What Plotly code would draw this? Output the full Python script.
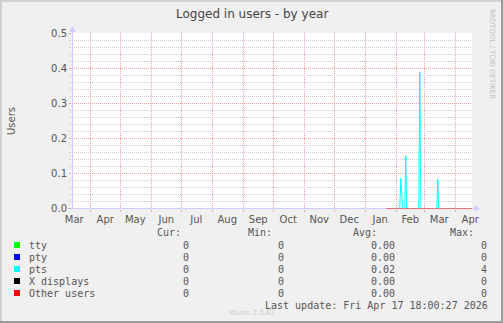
import plotly.graph_objects as go

# ---------------- data ----------------
series_names = ["tty", "pty", "pts", "X displays", "Other users"]
series_colors = ["#00FF00", "#0000FF", "#00FFFF", "#000000", "#FF0000"]

zero_dates = ["2026-01-21 18:00", "2026-04-17 18:00"]
zero_values = [0, 0]

pts_dates = ["2026-01-21 18:00", "2026-02-04 12:00", "2026-02-05 12:00", "2026-02-06 12:00",
             "2026-02-07 12:00", "2026-02-09 12:00", "2026-02-10 12:00", "2026-02-11 12:00",
             "2026-02-23 12:00", "2026-02-24 12:00", "2026-02-25 12:00", "2026-03-13 12:00",
             "2026-03-14 12:00", "2026-03-15 12:00", "2026-04-17 18:00"]
pts_values = [0, 0, 0.086, 0.03, 0, 0, 0.15, 0, 0, 0.39, 0, 0, 0.083, 0, 0]

month_label_dates = ["2025-03-16", "2025-04-16", "2025-05-16", "2025-06-16", "2025-07-16",
                     "2025-08-16", "2025-09-16", "2025-10-16", "2025-11-16", "2025-12-16",
                     "2026-01-16", "2026-02-15", "2026-03-16", "2026-04-16"]
month_labels = ["Mar", "Apr", "May", "Jun", "Jul", "Aug", "Sep", "Oct", "Nov", "Dec",
                "Jan", "Feb", "Mar", "Apr"]
month_starts = ["2025-04-01", "2025-05-01", "2025-06-01", "2025-07-01", "2025-08-01",
                "2025-09-01", "2025-10-01", "2025-11-01", "2025-12-01", "2026-01-01",
                "2026-02-01", "2026-03-01", "2026-04-01"]

y_ticks = [0.0, 0.1, 0.2, 0.3, 0.4, 0.5]
y_tick_labels = ["0.0", "0.1", "0.2", "0.3", "0.4", "0.5"]

stat_cur = ["0", "0", "0", "0", "0"]
stat_min = ["0", "0", "0", "0", "0"]
stat_avg = ["0.00", "0.00", "0.02", "0.00", "0.00"]
stat_max = ["0", "0", "4", "0", "0"]

title_text = "Logged in users - by year"
last_update = "Last update: Fri Apr 17 18:00:27 2026"
x_start = "2025-03-13 18:00"
x_end = "2026-04-17 18:00"

# ---------------- geometry helpers ----------------
W, H = 503, 323
PL, PR, PT, PB = 72, 472, 33, 209   # zero row centred on pixel row 208
Y_MAX = 0.5
PX_PER_UNIT = 175 / Y_MAX
PAD = 0.5 / PX_PER_UNIT


def px(xp):
    return (xp - PL) / (PR - PL)


def py(yp):
    return (PB - yp) / (PB - PT)


fig = go.Figure()

for name, color in zip(series_names, series_colors):
    if name == "pts":
        xs, ys = pts_dates, pts_values
    else:
        xs, ys = zero_dates, zero_values
    c = color
    if name == "Other users":
        c = "#e8707c"
    fig.add_trace(go.Scatter(x=xs, y=ys, mode="lines", name=name,
                             line=dict(color=c, width=1), hoverinfo="skip"))

mono = "DejaVu Sans Mono"
sans = "DejaVu Sans"
txt_col = "#555555"

annotations = []
shapes = []

# title
annotations.append(dict(text=title_text, x=px(252), y=py(14), xref="paper", yref="paper",
                        showarrow=False, xanchor="center", yanchor="middle",
                        font=dict(family=sans, size=12, color="#444444")))
# y title
annotations.append(dict(text="Users", x=px(11), y=py(121), xref="paper", yref="paper",
                        showarrow=False, textangle=-90, xanchor="center", yanchor="middle",
                        font=dict(family=sans, size=10, color=txt_col)))
# rrdtool watermark
annotations.append(dict(text="RRDTOOL / TOBI OETIKER", x=px(492), y=py(54), xref="paper",
                        yref="paper", showarrow=False, textangle=90, xanchor="center",
                        yanchor="middle", font=dict(family=sans, size=7, color="#c0c0c0")))
# munin
annotations.append(dict(text="Munin 2.0.63", x=px(252), y=py(313), xref="paper", yref="paper",
                        showarrow=False, xanchor="center", yanchor="middle",
                        font=dict(family=sans, size=7, color="#cccccc")))

# legend table header
header_y = 232
for label, right in [("Cur:", 183), ("Min:", 274), ("Avg:", 379), ("Max:", 476)]:
    annotations.append(dict(text=label, x=px(right), y=py(header_y), xref="paper", yref="paper",
                            showarrow=False, xanchor="right", yanchor="middle",
                            font=dict(family=mono, size=10, color=txt_col)))

row_y0 = 245
row_dy = 12
for i, (name, color) in enumerate(zip(series_names, series_colors)):
    yy = row_y0 + i * row_dy
    shapes.append(dict(type="rect", xref="paper", yref="paper", x0=px(14), x1=px(20),
                       y0=py(yy + 3), y1=py(yy - 3), fillcolor=color, line=dict(width=0)))
    annotations.append(dict(text=name, x=px(27), y=py(yy), xref="paper", yref="paper",
                            showarrow=False, xanchor="left", yanchor="middle",
                            font=dict(family=mono, size=10, color=txt_col)))
    for val, right in [(stat_cur[i], 191), (stat_min[i], 286), (stat_avg[i], 397), (stat_max[i], 489)]:
        annotations.append(dict(text=val, x=px(right), y=py(yy), xref="paper", yref="paper",
                                showarrow=False, xanchor="right", yanchor="middle",
                                font=dict(family=mono, size=10, color=txt_col)))

annotations.append(dict(text=last_update, x=px(490), y=py(305), xref="paper", yref="paper",
                        showarrow=False, xanchor="right", yanchor="middle",
                        font=dict(family=mono, size=10, color=txt_col)))

# frame (3D-ish border)
shapes.append(dict(type="rect", xref="paper", yref="paper", x0=px(0), x1=px(503), y0=py(0), y1=py(2),
                   fillcolor="#d0d0d0", line=dict(width=0), layer="below"))
shapes.append(dict(type="rect", xref="paper", yref="paper", x0=px(0), x1=px(2), y0=py(0), y1=py(323),
                   fillcolor="#d0d0d0", line=dict(width=0), layer="below"))
shapes.append(dict(type="rect", xref="paper", yref="paper", x0=px(0), x1=px(503), y0=py(321), y1=py(323),
                   fillcolor="#9a9a9a", line=dict(width=0), layer="below"))
shapes.append(dict(type="rect", xref="paper", yref="paper", x0=px(501), x1=px(503), y0=py(0), y1=py(323),
                   fillcolor="#9a9a9a", line=dict(width=0), layer="below"))

axis_col = "#ccccff"
# axis lines with arrows
shapes.append(dict(type="line", xref="paper", yref="paper", x0=px(72.5), x1=px(72.5), y0=py(209), y1=py(30),
                   line=dict(color=axis_col, width=1)))
shapes.append(dict(type="line", xref="paper", yref="paper", x0=px(68), x1=px(476), y0=py(208.5), y1=py(208.5),
                   line=dict(color=axis_col, width=1), layer="below"))
shapes.append(dict(type="path", xref="paper", yref="paper",
                   path=f"M {px(69.5)} {py(32)} L {px(75.5)} {py(32)} L {px(72.5)} {py(26)} Z",
                   fillcolor=axis_col, line=dict(width=0)))
shapes.append(dict(type="path", xref="paper", yref="paper",
                   path=f"M {px(474)} {py(205.5)} L {px(474)} {py(211.5)} L {px(480)} {py(208.5)} Z",
                   fillcolor=axis_col, line=dict(width=0)))

fig.update_layout(
    width=W, height=H, autosize=False,
    margin=dict(l=PL, r=W - PR, t=PT, b=H - PB),
    paper_bgcolor="#f0f0f0", plot_bgcolor="#ffffff",
    showlegend=False,
    annotations=annotations, shapes=shapes,
)

pink = "#f3a0a0"
gray = "#cfcfcf"
fig.update_xaxes(
    type="date", range=[x_start, x_end],
    tickmode="array", tickvals=month_label_dates, ticktext=month_labels,
    ticks="", showgrid=False, zeroline=False, showline=False,
    ticklabelstandoff=3,
    tickfont=dict(family=sans, size=10, color=txt_col),
    minor=dict(tickmode="array", tickvals=month_starts, showgrid=True,
               gridcolor=pink, griddash="1px,1px", gridwidth=1,
               ticks="outside", ticklen=2, tickcolor=pink),
    fixedrange=True,
)
fig.update_yaxes(
    range=[-PAD, Y_MAX + PAD], tickmode="array", tickvals=y_ticks, ticktext=y_tick_labels,
    showgrid=True, gridcolor=pink, griddash="1px,1px", gridwidth=1,
    ticks="outside", ticklen=2, tickcolor=pink,
    zeroline=False, showline=False,
    tickfont=dict(family=sans, size=10, color=txt_col),
    minor=dict(dtick=0.02, showgrid=True, gridcolor=gray, griddash="1px,1px", gridwidth=1,
               ticks="outside", ticklen=2, tickcolor=gray),
    fixedrange=True,
)

fig.write_html("out.html")
